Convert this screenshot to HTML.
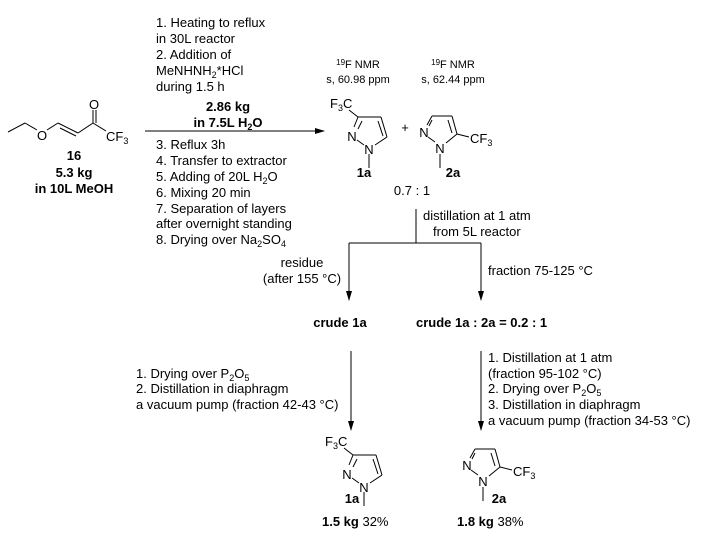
<!DOCTYPE html>
<html><head><meta charset="utf-8"><style>
html,body{margin:0;padding:0;background:#fff;}
svg{display:block;}
text{font-family:"Liberation Sans",Arial,sans-serif;font-size:13px;fill:#000;}
.b{font-weight:bold;}
.s{font-size:11px;}
</style></head><body>
<svg width="707" height="536" viewBox="0 0 707 536" xmlns="http://www.w3.org/2000/svg">
<defs>
<marker id="ah" markerWidth="10" markerHeight="8" refX="9" refY="4" orient="auto" markerUnits="userSpaceOnUse">
<path d="M0,1 L10,4 L0,7 Z" fill="#000"/></marker>
<g id="m1a" stroke="#000" stroke-width="1" fill="none">
<line x1="349" y1="110" x2="358" y2="117"/>
<line x1="358" y1="117" x2="381" y2="117"/>
<line x1="381" y1="117" x2="387" y2="137"/>
<line x1="378" y1="121" x2="383" y2="136"/>
<line x1="387" y1="137" x2="375" y2="145"/>
<line x1="358" y1="117" x2="354" y2="127"/>
<line x1="362" y1="121" x2="358" y2="129"/>
<line x1="357" y1="140" x2="364" y2="145"/>
<line x1="369" y1="154" x2="369" y2="168"/>
</g>
<g id="m2a" stroke="#000" stroke-width="1" fill="none">
<line x1="427" y1="125" x2="432" y2="116"/>
<line x1="432" y1="120" x2="429" y2="126"/>
<line x1="432" y1="116" x2="452" y2="116"/>
<line x1="452" y1="116" x2="457" y2="134"/>
<line x1="448" y1="120" x2="452" y2="133"/>
<line x1="457" y1="134" x2="446" y2="143"/>
<line x1="457" y1="134" x2="469" y2="137"/>
<line x1="428" y1="137" x2="435" y2="142"/>
<line x1="440" y1="154" x2="440" y2="168"/>
</g>
</defs>

<g stroke="#000" stroke-width="1" fill="none">
<line x1="8" y1="132" x2="25" y2="123"/>
<line x1="25" y1="123" x2="37" y2="130"/>
<line x1="47" y1="130" x2="58" y2="123"/>
<line x1="58" y1="123" x2="78" y2="133"/>
<line x1="60" y1="128" x2="76" y2="136"/>
<line x1="78" y1="133" x2="93" y2="123"/>
<line x1="93" y1="123" x2="93" y2="110"/>
<line x1="96" y1="123" x2="96" y2="110"/>
<line x1="93" y1="123" x2="106" y2="131"/>
</g>
<text x="42" y="140" text-anchor="middle">O</text>
<text x="94" y="109" text-anchor="middle">O</text>
<text x="106" y="141">CF<tspan font-size="9" dy="3">3</tspan></text>
<text x="74" y="160" text-anchor="middle" class="b">16</text>
<text x="74" y="177" text-anchor="middle" class="b">5.3 kg</text>
<text x="74" y="193" text-anchor="middle" class="b">in 10L MeOH</text>

<text x="156" y="27">1. Heating to reflux</text>
<text x="156" y="43">in 30L reactor</text>
<text x="156" y="59">2. Addition of</text>
<text x="156" y="75">MeNHNH<tspan font-size="9" dy="3">2</tspan><tspan dy="-3">*HCl</tspan></text>
<text x="156" y="91">during 1.5 h</text>
<text x="228" y="111" text-anchor="middle" class="b">2.86 kg</text>
<text x="228" y="127" text-anchor="middle" class="b">in 7.5L H<tspan font-size="9" dy="3">2</tspan><tspan dy="-3">O</tspan></text>
<line x1="145" y1="131" x2="324" y2="131" stroke="#000" stroke-width="1" marker-end="url(#ah)"/>
<text x="156" y="149">3. Reflux 3h</text>
<text x="156" y="165">4. Transfer to extractor</text>
<text x="156" y="181">5. Adding of 20L H<tspan font-size="9" dy="3">2</tspan><tspan dy="-3">O</tspan></text>
<text x="156" y="197">6. Mixing 20 min</text>
<text x="156" y="213">7. Separation of layers</text>
<text x="156" y="228">after overnight standing</text>
<text x="156" y="244">8. Drying over Na<tspan font-size="9" dy="3">2</tspan><tspan dy="-3">SO</tspan><tspan font-size="9" dy="3">4</tspan></text>

<text x="358" y="68" text-anchor="middle" class="s"><tspan font-size="8" dy="-3">19</tspan><tspan dy="3">F NMR</tspan></text>
<text x="358" y="83" text-anchor="middle" class="s">s, 60.98 ppm</text>
<text x="453" y="68" text-anchor="middle" class="s"><tspan font-size="8" dy="-3">19</tspan><tspan dy="3">F NMR</tspan></text>
<text x="453" y="83" text-anchor="middle" class="s">s, 62.44 ppm</text>

<use href="#m1a"/>
<text x="330" y="108">F<tspan font-size="9" dy="3">3</tspan><tspan dy="-3">C</tspan></text>
<text x="352" y="141" text-anchor="middle">N</text>
<text x="369" y="154" text-anchor="middle">N</text>
<text x="364" y="177" text-anchor="middle" class="b">1a</text>
<text x="405" y="132" text-anchor="middle">+</text>
<use href="#m2a"/>
<text x="424" y="137" text-anchor="middle">N</text>
<text x="440" y="153" text-anchor="middle">N</text>
<text x="470" y="143">CF<tspan font-size="9" dy="3">3</tspan></text>
<text x="453" y="177" text-anchor="middle" class="b">2a</text>
<text x="412" y="195" text-anchor="middle">0.7 : 1</text>

<g stroke="#000" stroke-width="1" fill="none">
<line x1="416" y1="209" x2="416" y2="243"/>
<line x1="349" y1="243" x2="481" y2="243"/>
<line x1="349" y1="243" x2="349" y2="300" marker-end="url(#ah)"/>
<line x1="481" y1="243" x2="481" y2="300" marker-end="url(#ah)"/>
<line x1="351" y1="351" x2="351" y2="430" marker-end="url(#ah)"/>
<line x1="481" y1="351" x2="481" y2="430" marker-end="url(#ah)"/>
</g>
<text x="423" y="220">distillation at 1 atm</text>
<text x="433" y="236">from 5L reactor</text>
<text x="302" y="267" text-anchor="middle">residue</text>
<text x="302" y="283" text-anchor="middle">(after 155 °C)</text>
<text x="488" y="275">fraction 75-125 °C</text>
<text x="340" y="327" text-anchor="middle" class="b">crude 1a</text>
<text x="416" y="327" class="b">crude 1a : 2a = 0.2 : 1</text>

<text x="136" y="378">1. Drying over P<tspan font-size="9" dy="3">2</tspan><tspan dy="-3">O</tspan><tspan font-size="9" dy="3">5</tspan></text>
<text x="136" y="393">2. Distillation in diaphragm</text>
<text x="136" y="409">a vacuum pump (fraction 42-43 °C)</text>

<text x="488" y="362">1. Distillation at  1 atm</text>
<text x="488" y="378">(fraction 95-102 °C)</text>
<text x="488" y="393">2. Drying over P<tspan font-size="9" dy="3">2</tspan><tspan dy="-3">O</tspan><tspan font-size="9" dy="3">5</tspan></text>
<text x="488" y="409">3. Distillation in diaphragm</text>
<text x="488" y="425">a vacuum pump (fraction 34-53 °C)</text>

<g transform="translate(-5,338)">
<use href="#m1a"/>
<text x="330" y="108">F<tspan font-size="9" dy="3">3</tspan><tspan dy="-3">C</tspan></text>
<text x="352" y="141" text-anchor="middle">N</text>
<text x="369" y="154" text-anchor="middle">N</text>
</g>
<text x="352" y="503" text-anchor="middle" class="b">1a</text>
<g transform="translate(43,333)">
<use href="#m2a"/>
<text x="424" y="137" text-anchor="middle">N</text>
<text x="440" y="153" text-anchor="middle">N</text>
<text x="470" y="143">CF<tspan font-size="9" dy="3">3</tspan></text>
</g>
<text x="499" y="503" text-anchor="middle" class="b">2a</text>
<text x="322" y="526"><tspan class="b">1.5 kg</tspan> 32%</text>
<text x="457" y="526"><tspan class="b">1.8 kg</tspan>  38%</text>
</svg>
</body></html>
